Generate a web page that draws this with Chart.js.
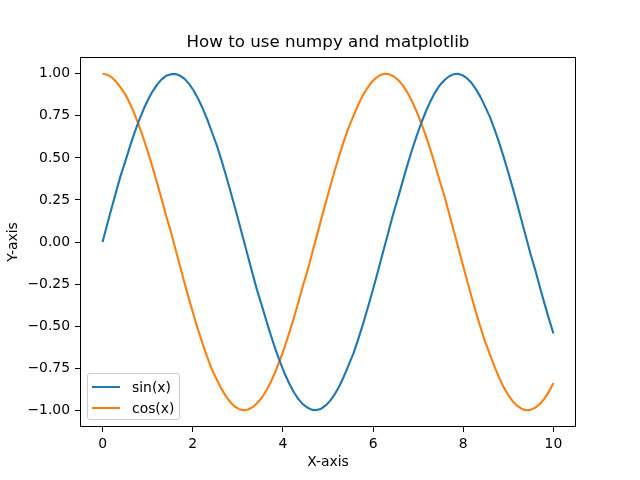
<!DOCTYPE html>
<html>
<head>
<meta charset="utf-8">
<script src="https://cdn.jsdelivr.net/npm/chart.js@4.4.1/dist/chart.umd.min.js"></script>
<style>
  html, body { margin: 0; padding: 0; background: #fff; }
  #wrap { position: relative; width: 640px; height: 480px; }
  #legend { position: absolute; left: 87px; top: 373px; width: 91px; height: 45px;
    border: 1px solid #cccccc; border-radius: 3px; background: rgba(255,255,255,0.8);
    font-family: 'DejaVu Sans', sans-serif; font-size: 13.9px; color: #000; }
  .item { position: absolute; left: 0; height: 20px; width: 91px; }
  .swatch { position: absolute; left: 4px; width: 28px; height: 2px; top: 9px; }
  .lbl { position: absolute; left: 44px; top: 1px; line-height: 18px; white-space: nowrap; }
</style>
</head>
<body>
<div id="wrap">
  <canvas id="c" width="640" height="480"></canvas>
  <div id="legend"></div>
</div>
<script>
const chartTitle = 'How to use numpy and matplotlib';
const xLabel = 'X-axis';
const yLabel = 'Y-axis';
const seriesNames = ['sin(x)', 'cos(x)'];
const seriesColors = ['#1f77b4', '#ff7f0e'];

const xValues = [0, 0.10, 0.20, 0.30, 0.40, 0.51, 0.61, 0.71, 0.81, 0.91,
  1.01, 1.11, 1.21, 1.31, 1.41, 1.52, 1.62, 1.72, 1.82, 1.92,
  2.02, 2.12, 2.22, 2.32, 2.42, 2.53, 2.63, 2.73, 2.83, 2.93,
  3.03, 3.13, 3.23, 3.33, 3.43, 3.54, 3.64, 3.74, 3.84, 3.94,
  4.04, 4.14, 4.24, 4.34, 4.44, 4.55, 4.65, 4.75, 4.85, 4.95,
  5.05, 5.15, 5.25, 5.35, 5.45, 5.56, 5.66, 5.76, 5.86, 5.96,
  6.06, 6.16, 6.26, 6.36, 6.46, 6.57, 6.67, 6.77, 6.87, 6.97,
  7.07, 7.17, 7.27, 7.37, 7.47, 7.58, 7.68, 7.78, 7.88, 7.98,
  8.08, 8.18, 8.28, 8.38, 8.48, 8.59, 8.69, 8.79, 8.89, 8.99,
  9.09, 9.19, 9.29, 9.39, 9.49, 9.60, 9.70, 9.80, 9.90, 10];

const sinValues = [0.000, 0.101, 0.201, 0.298, 0.393, 0.484, 0.570, 0.650, 0.723, 0.789,
  0.847, 0.896, 0.936, 0.967, 0.988, 0.998, 0.999, 0.989, 0.970, 0.940,
  0.901, 0.852, 0.795, 0.730, 0.657, 0.578, 0.493, 0.403, 0.308, 0.211,
  0.111, 0.010, -0.091, -0.191, -0.289, -0.384, -0.475, -0.561, -0.642, -0.716,
  -0.783, -0.841, -0.892, -0.933, -0.964, -0.986, -0.998, -0.999, -0.991, -0.972,
  -0.943, -0.905, -0.858, -0.801, -0.737, -0.665, -0.586, -0.502, -0.412, -0.318,
  -0.221, -0.121, -0.021, 0.080, 0.180, 0.279, 0.374, 0.466, 0.553, 0.634,
  0.709, 0.776, 0.836, 0.887, 0.929, 0.962, 0.984, 0.997, 1.000, 0.992,
  0.974, 0.947, 0.909, 0.863, 0.808, 0.744, 0.673, 0.595, 0.511, 0.421,
  0.328, 0.231, 0.131, 0.031, -0.070, -0.170, -0.269, -0.365, -0.457, -0.544];

const cosValues = [1.000, 0.995, 0.980, 0.954, 0.919, 0.875, 0.822, 0.760, 0.691, 0.614,
  0.532, 0.444, 0.351, 0.255, 0.156, 0.056, -0.045, -0.146, -0.245, -0.341,
  -0.434, -0.523, -0.606, -0.683, -0.754, -0.816, -0.870, -0.915, -0.951, -0.978,
  -0.994, -1.000, -0.996, -0.982, -0.957, -0.923, -0.880, -0.828, -0.767, -0.698,
  -0.623, -0.540, -0.453, -0.361, -0.265, -0.166, -0.066, 0.035, 0.136, 0.235,
  0.332, 0.425, 0.514, 0.598, 0.676, 0.747, 0.810, 0.865, 0.911, 0.948,
  0.975, 0.993, 1.000, 0.997, 0.984, 0.960, 0.927, 0.885, 0.833, 0.773,
  0.706, 0.631, 0.549, 0.462, 0.370, 0.275, 0.176, 0.076, -0.025, -0.125,
  -0.225, -0.322, -0.416, -0.505, -0.590, -0.668, -0.740, -0.804, -0.860, -0.907,
  -0.945, -0.973, -0.991, -1.000, -0.998, -0.985, -0.963, -0.931, -0.890, -0.839];

const xTicks = [0, 2, 4, 6, 8, 10];
const yTicks = [-1.00, -0.75, -0.50, -0.25, 0.00, 0.25, 0.50, 0.75, 1.00];

Chart.defaults.font.family = "'DejaVu Sans', sans-serif";
Chart.defaults.color = '#000';

const framePlugin = {
  id: 'frame',
  afterDraw(chart) {
    const a = chart.chartArea, ctx = chart.ctx;
    ctx.save();
    ctx.strokeStyle = '#000';
    ctx.lineWidth = 1;
    const l = Math.round(a.left) + 0.5, t = Math.round(a.top) + 0.5;
    const r = Math.round(a.right) - 0.5, b = Math.round(a.bottom) - 0.5;
    ctx.strokeRect(l, t, r - l, b - t);
    ctx.restore();
  }
};

const tickFont = { family: "'DejaVu Sans', sans-serif", size: 13.9 };
const fmtMinus = v => String(v).replace('-', '\u2212');

const chart = new Chart(document.getElementById('c'), {
  type: 'line',
  data: {
    datasets: [
      { label: seriesNames[0], data: xValues.map((x, i) => ({ x, y: sinValues[i] })),
        borderColor: seriesColors[0], backgroundColor: seriesColors[0] },
      { label: seriesNames[1], data: xValues.map((x, i) => ({ x, y: cosValues[i] })),
        borderColor: seriesColors[1], backgroundColor: seriesColors[1] }
    ]
  },
  options: {
    responsive: false,
    devicePixelRatio: 1,
    animation: false,
    layout: { padding: { left: 0, right: 64, top: 0, bottom: 0 } },
    elements: {
      line: { borderWidth: 2.1, tension: 0, borderCapStyle: 'butt', borderJoinStyle: 'round' },
      point: { radius: 0, hoverRadius: 0 }
    },
    plugins: {
      legend: { display: false },
      tooltip: { enabled: false },
      title: {
        display: true, text: chartTitle, color: '#000', fullSize: false,
        font: { family: "'DejaVu Sans', sans-serif", size: 16.67, weight: 'normal', lineHeight: 1.2 },
        padding: { top: 33, bottom: 4 }
      }
    },
    scales: {
      x: {
        type: 'linear', min: -0.5, max: 10.5,
        afterBuildTicks: s => { s.ticks = xTicks.map(v => ({ value: v })); },
        afterFit: s => { s.height = 53; },
        ticks: { font: tickFont, color: '#000', padding: 4, maxRotation: 0, autoSkip: false,
          callback: v => fmtMinus(v) },
        grid: { drawOnChartArea: false, drawTicks: true, tickLength: 5, color: '#000', tickWidth: 1 },
        border: { display: false },
        title: { display: true, text: xLabel, color: '#000', font: tickFont, padding: { top: 0, bottom: 9 } }
      },
      y: {
        type: 'linear', min: -1.1, max: 1.1,
        afterBuildTicks: s => { s.ticks = yTicks.map(v => ({ value: v })); },
        afterFit: s => { s.width = 80; },
        ticks: { font: tickFont, color: '#000', padding: 5, autoSkip: false,
          callback: v => fmtMinus(Number(v).toFixed(2)) },
        grid: { drawOnChartArea: false, drawTicks: true, tickLength: 5, color: '#000', tickWidth: 1 },
        border: { display: false },
        title: { display: true, text: yLabel, color: '#000', font: tickFont, padding: { top: 5, bottom: 0 } }
      }
    }
  },
  plugins: [framePlugin]
});

// HTML legend built from the chart's datasets
const legendEl = document.getElementById('legend');
chart.data.datasets.forEach((ds, i) => {
  const item = document.createElement('div');
  item.className = 'item';
  item.style.top = (3 + i * 21) + 'px';
  const sw = document.createElement('div');
  sw.className = 'swatch';
  sw.style.background = ds.borderColor;
  const lb = document.createElement('div');
  lb.className = 'lbl';
  lb.textContent = ds.label;
  item.appendChild(sw);
  item.appendChild(lb);
  legendEl.appendChild(item);
});
</script>
</body>
</html>
